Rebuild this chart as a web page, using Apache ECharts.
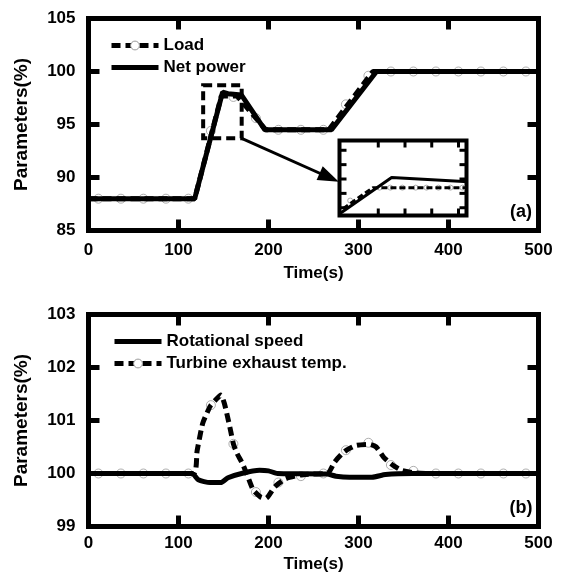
<!DOCTYPE html>
<meta charset="utf-8">
<title>Load, power, speed and exhaust temperature</title>
<style>
body { margin: 0; background: #fff; }
#main { width: 567px; height: 575px; }
</style>
<body>
<div id="main"></div>
<script src="https://cdn.jsdelivr.net/npm/echarts@6/dist/echarts.min.js"></script>
<script>
// (a) load demand and net power, [time s, %]
var loadLine = [[0, 88], [118, 88], [147.6, 97.7], [165, 97.7], [197, 94.5], [267, 94.5], [316, 100], [500, 100]];
var netPower = [[0, 88], [118, 88], [149, 98.05], [155, 97.9], [170, 97.78], [196, 94.5], [270, 94.5], [320, 100], [500, 100]];

// sample circles drawn on the dashed curves
var markTimes = [11, 36, 61, 86, 111, 136, 161, 186, 211, 236, 261, 286, 311, 336, 361, 386, 411, 436, 461, 486];
var loadMarks = [88, 88, 88, 88, 88, 94.4, 97.6, 95.6, 94.5, 94.5, 94.5, 96.9, 99.6, 100, 100, 100, 100, 100, 100, 100];

// axis ranges and inner tick marks on every side of the frames
var timeRange = [0, 500];
var powerRange = [85, 105];
var paramRange = [99, 103];
var timeTicks = [100, 200, 300, 400];
var powerTicks = [90, 95, 100];
var paramTicks = [100, 101, 102];

// zoomed inset of (a)
var insetTimeRange = [145.1, 154.6];
var insetValueRange = [96.73, 99.34];
var insetTimeTicks = [148, 150, 152, 154];
var insetValueTicks = [97, 97.5, 98, 98.5, 99];
var insetMarkTimes = [145.9, 148.1, 148.9, 149.8, 150.8, 151.6, 152.5, 153.4, 154.3];
var insetMarks = [97.25, 97.7, 97.7, 97.7, 97.7, 97.7, 97.7, 97.7, 97.7];
var zoomBox = [[127.4, 98.7], [170.2, 93.7]];
var arrowFrom = [170.2, 93.7];
var arrowTo = [267.5, 90.0];

// (b) rotational speed and turbine exhaust temperature
var speed = [[0, 100], [115, 100], [122, 99.88], [135, 99.83], [147, 99.83], [155, 99.92], [170, 100.0], [190, 100.06],
  [200, 100.05], [210, 100.0], [265, 99.99], [275, 99.95], [290, 99.93], [315, 99.93], [330, 99.98], [360, 100], [500, 100]];
var exhaust = [[0, 100], [116.6, 100], [120.7, 100.43], [126.8, 100.94], [132.9, 101.19], [136, 101.29], [143, 101.42],
  [147, 101.48], [151, 101.32], [157, 100.88], [161, 100.56], [165, 100.38], [171, 100.19], [177, 99.94], [183, 99.69],
  [191, 99.56], [197, 99.53], [207, 99.75], [219, 99.9], [235, 99.97], [247, 99.99], [265.5, 100], [273.6, 100.22],
  [281.6, 100.37], [287.6, 100.45], [297.6, 100.53], [311.7, 100.55], [319.7, 100.5], [327.8, 100.31], [337.9, 100.16],
  [348, 100.06], [364, 100.01], [380, 100], [500, 100]];
var exhaustMarks = [100, 100, 100, 100, 100, 101.29, 100.56, 99.65, 99.83, 99.95, 100, 100.44, 100.58, 100.16, 100.05, 100, 100, 100, 100, 100];

var font = "'Liberation Sans', Arial, Helvetica, sans-serif";

function pairs(xs, ys) {
  return xs.map(function (x, i) { return [x, ys[i]]; });
}

function txt(size) {
  return { color: '#000', fontFamily: font, fontWeight: 'bold', fontSize: size };
}

var noLine = { show: false, onZero: false };

function xAxis(grid, margin, gap) {
  return {
    type: 'value', gridIndex: grid, min: timeRange[0], max: timeRange[1], interval: 100,
    axisLine: noLine, axisTick: { show: false },
    axisLabel: Object.assign({ margin: margin }, txt(17)),
    splitLine: { show: false },
    name: 'Time(s)', nameLocation: 'middle', nameGap: gap,
    nameTextStyle: txt(17)
  };
}

function yAxis(grid, range, step) {
  return {
    type: 'value', gridIndex: grid, min: range[0], max: range[1], interval: step,
    axisLine: noLine, axisTick: { show: false },
    axisLabel: Object.assign({ margin: 13 }, txt(17)),
    splitLine: { show: false },
    name: 'Parameters(%)', nameLocation: 'middle', nameGap: 57,
    nameTextStyle: txt(19)
  };
}

function bareAxis(range) {
  return {
    type: 'value', gridIndex: 2, min: range[0], max: range[1],
    axisLine: noLine, axisTick: { show: false }, axisLabel: { show: false }, splitLine: { show: false }
  };
}

var markStyle = { color: '#fff', borderColor: '#9a9a9a', borderWidth: 1 };
var hidden = { color: 'rgba(0,0,0,0)', borderColor: 'rgba(0,0,0,0)' };

var panelLabels = [
  { type: 'text', x: 521, y: 212, z: 100, style: { text: '(a)', font: 'bold 18px ' + font, fill: '#000', align: 'center', verticalAlign: 'middle' } },
  { type: 'text', x: 521, y: 508, z: 100, style: { text: '(b)', font: 'bold 18px ' + font, fill: '#000', align: 'center', verticalAlign: 'middle' } }
];

var myChart = echarts.init(document.getElementById('main'));

var option = {
  animation: false,
  backgroundColor: '#fff',
  grid: [
    { left: 88.5, top: 18.5, width: 450, height: 212, show: true, borderWidth: 5, borderColor: '#000', backgroundColor: 'rgba(0,0,0,0)' },
    { left: 88.5, top: 314.5, width: 450, height: 212, show: true, borderWidth: 5, borderColor: '#000', backgroundColor: 'rgba(0,0,0,0)' },
    { left: 339.5, top: 140.5, width: 127, height: 75, show: true, borderWidth: 4, borderColor: '#000', backgroundColor: '#fff' }
  ],
  xAxis: [xAxis(0, 11, 34), xAxis(1, 8, 29), bareAxis(insetTimeRange)],
  yAxis: [yAxis(0, powerRange, 5), yAxis(1, paramRange, 1), bareAxis(insetValueRange)],
  legend: [
    {
      data: ['Load', 'Net power'], orient: 'vertical', left: 104, top: 32,
      itemWidth: 47, itemHeight: 11, itemGap: 5, selectedMode: false,
      textStyle: txt(17), lineStyle: { width: 5 }, itemStyle: { borderWidth: 1 }
    },
    {
      data: ['Rotational speed', 'Turbine exhaust temp.'], orient: 'vertical', left: 107, top: 328,
      itemWidth: 47, itemHeight: 11, itemGap: 5, selectedMode: false,
      textStyle: txt(17), lineStyle: { width: 5 }, itemStyle: { borderWidth: 1 }
    }
  ],
  graphic: { elements: panelLabels },
  series: [
    {
      name: 'Load samples', type: 'scatter', xAxisIndex: 0, yAxisIndex: 0, z: 1, silent: true,
      symbol: 'circle', symbolSize: 9, itemStyle: markStyle,
      data: pairs(markTimes, loadMarks)
    },
    {
      name: 'Load', type: 'line', xAxisIndex: 0, yAxisIndex: 0, z: 2,
      symbol: 'circle', symbolSize: 9, showSymbol: false, itemStyle: markStyle,
      lineStyle: { color: '#000', width: 5, type: [9, 5] },
      data: loadLine,
      markArea: {
        silent: true, label: { show: false },
        itemStyle: { color: 'rgba(0,0,0,0)', borderColor: '#000', borderWidth: 4, borderType: [9, 5] },
        data: [[{ coord: zoomBox[0] }, { coord: zoomBox[1] }]]
      }
    },
    {
      name: 'Net power', type: 'line', xAxisIndex: 0, yAxisIndex: 0, z: 3,
      symbol: 'none', itemStyle: hidden,
      lineStyle: { color: '#000', width: 5 },
      data: netPower,
      markLine: {
        silent: true, symbol: ['none', 'triangle'], symbolSize: [15, 21], label: { show: false },
        lineStyle: { color: '#000', width: 3, type: 'solid' },
        itemStyle: { color: '#000' },
        data: [[{ coord: arrowFrom }, { coord: arrowTo }]]
      }
    },
    {
      name: 'Exhaust samples', type: 'scatter', xAxisIndex: 1, yAxisIndex: 1, z: 1, silent: true,
      symbol: 'circle', symbolSize: 9, itemStyle: markStyle,
      data: pairs(markTimes, exhaustMarks)
    },
    {
      name: 'Rotational speed', type: 'line', xAxisIndex: 1, yAxisIndex: 1, z: 2,
      symbol: 'none', itemStyle: hidden, smooth: 0.2,
      lineStyle: { color: '#000', width: 5 },
      data: speed
    },
    {
      name: 'Turbine exhaust temp.', type: 'line', xAxisIndex: 1, yAxisIndex: 1, z: 3,
      symbol: 'circle', symbolSize: 9, showSymbol: false, itemStyle: markStyle, smooth: 0.2,
      lineStyle: { color: '#000', width: 5, type: [9, 5] },
      data: exhaust
    },
    {
      name: 'Inset samples', type: 'scatter', xAxisIndex: 2, yAxisIndex: 2, z: 4, silent: true,
      symbol: 'circle', symbolSize: 5, itemStyle: markStyle, clip: true,
      data: pairs(insetMarkTimes, insetMarks)
    },
    {
      name: 'Inset load', type: 'line', xAxisIndex: 2, yAxisIndex: 2, z: 5, clip: true,
      symbol: 'none', lineStyle: { color: '#000', width: 3, type: [6, 3] },
      data: loadLine
    },
    {
      name: 'Inset net power', type: 'line', xAxisIndex: 2, yAxisIndex: 2, z: 6, clip: true,
      symbol: 'none', lineStyle: { color: '#000', width: 3 },
      data: netPower
    }
  ]
};

myChart.setOption(option);

// inward tick marks on all four sides, placed through each grid's scales
function tickMarks(gridIndex, xVals, yVals, xr, yr, len, width) {
  var finder = { gridIndex: gridIndex };
  var els = [];
  function bar(x1, y1, x2, y2) {
    els.push({ type: 'line', z: 50, silent: true, shape: { x1: x1, y1: y1, x2: x2, y2: y2 },
      style: { stroke: '#000', lineWidth: width } });
  }
  xVals.forEach(function (v) {
    var lo = myChart.convertToPixel(finder, [v, yr[0]]);
    var hi = myChart.convertToPixel(finder, [v, yr[1]]);
    bar(lo[0], lo[1], lo[0], lo[1] - len);
    bar(hi[0], hi[1], hi[0], hi[1] + len);
  });
  yVals.forEach(function (v) {
    var lo = myChart.convertToPixel(finder, [xr[0], v]);
    var hi = myChart.convertToPixel(finder, [xr[1], v]);
    bar(lo[0], lo[1], lo[0] + len, lo[1]);
    bar(hi[0], hi[1], hi[0] - len, hi[1]);
  });
  return els;
}

var ticks = []
  .concat(tickMarks(0, timeTicks, powerTicks, timeRange, powerRange, 11, 5))
  .concat(tickMarks(1, timeTicks, paramTicks, timeRange, paramRange, 11, 5))
  .concat(tickMarks(2, insetTimeTicks, insetValueTicks, insetTimeRange, insetValueRange, 7, 3));

myChart.setOption({ graphic: { elements: panelLabels.concat(ticks) } });
</script>
</body>
